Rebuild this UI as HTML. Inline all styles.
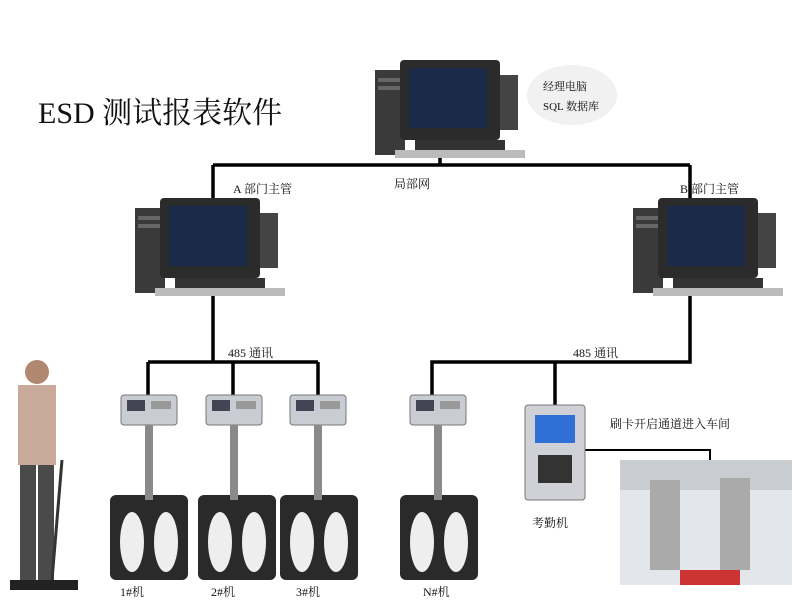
<!DOCTYPE html>
<html><head><meta charset="utf-8"><style>
body{margin:0;background:#fff;}
#c{position:relative;width:803px;height:605px;overflow:hidden;background:#fff;font-family:"Liberation Serif","Noto Serif CJK SC",serif;}
.t{position:absolute;font-size:12px;color:#111;white-space:nowrap;}
</style></head><body><div id="c">
<svg width="803" height="605" style="position:absolute;left:0;top:0">
<defs>
<linearGradient id="g1" x1="0" x2="1"><stop offset="0" stop-color="#888"/><stop offset="1" stop-color="#333"/></linearGradient>
<g id="pc">
<rect x="0" y="10" width="30" height="85" fill="#3a3a3a"/>
<rect x="3" y="18" width="24" height="4" fill="#666"/><rect x="3" y="26" width="24" height="4" fill="#666"/>
<rect x="25" y="0" width="100" height="80" rx="4" fill="#2b2b2b"/>
<rect x="34" y="8" width="78" height="60" fill="#1c2a4a"/>
<rect x="125" y="15" width="18" height="55" fill="#444"/>
<rect x="40" y="80" width="90" height="12" fill="#333"/>
<rect x="20" y="90" width="130" height="8" fill="#bbb"/>
</g>
<g id="dev">
<rect x="0" y="0" width="56" height="30" rx="3" fill="#c9ccd2" stroke="#777"/>
<rect x="6" y="5" width="18" height="11" fill="#445"/>
<rect x="30" y="6" width="20" height="8" fill="#999"/>
<rect x="24" y="30" width="8" height="75" fill="#8a8a8a"/>
</g>
<g id="mat">
<rect x="0" y="0" width="78" height="85" rx="6" fill="#2a2a2a"/>
<ellipse cx="22" cy="47" rx="12" ry="30" fill="#eee"/>
<ellipse cx="56" cy="47" rx="12" ry="30" fill="#eee"/>
</g>
</defs>
<g stroke="#000" stroke-width="3.5" fill="none">
<path d="M440 140V165M213 165H690M213 165V200M690 165V200"/>
<path d="M213 290V362M148 362H318M148 362V395M233 362V395M318 362V395"/>
<path d="M690 290V362H432V395M555 362V405"/>
<path d="M585 450H710V462" stroke-width="2"/>
</g>
<use href="#pc" x="375" y="60"/>
<use href="#pc" x="135" y="198"/>
<use href="#pc" x="633" y="198"/>
<ellipse cx="572" cy="95" rx="45" ry="30" fill="#f1f1f1"/>
<use href="#mat" x="110" y="495"/><use href="#mat" x="198" y="495"/><use href="#mat" x="280" y="495"/><use href="#mat" x="400" y="495"/>
<use href="#dev" x="121" y="395"/><use href="#dev" x="206" y="395"/><use href="#dev" x="290" y="395"/><use href="#dev" x="410" y="395"/>
<rect x="525" y="405" width="60" height="95" rx="3" fill="#cfd1d6" stroke="#777"/>
<rect x="535" y="415" width="40" height="28" fill="#2f6fd6"/>
<rect x="538" y="455" width="34" height="28" fill="#333"/>
<rect x="620" y="460" width="172" height="125" fill="#e3e6ea"/>
<rect x="620" y="460" width="172" height="30" fill="#c9cdd2"/>
<rect x="650" y="480" width="30" height="90" fill="#aaa"/><rect x="720" y="478" width="30" height="92" fill="#aaa"/>
<rect x="680" y="570" width="60" height="15" fill="#c33"/>
<rect x="18" y="385" width="38" height="80" fill="#c8a99a"/>
<circle cx="37" cy="372" r="12" fill="#b08870"/>
<rect x="20" y="465" width="16" height="115" fill="#4a4a4a"/><rect x="38" y="465" width="16" height="115" fill="#4a4a4a"/>
<rect x="10" y="580" width="68" height="10" fill="#222"/>
<line x1="62" y1="460" x2="52" y2="580" stroke="#333" stroke-width="3"/>
</svg>
<div class="t" style="left:38px;top:88px;font-size:30px;">ESD 测试报表软件</div>
<div class="t" style="left:543px;top:78px;font-size:11px;">经理电脑</div>
<div class="t" style="left:543px;top:98px;font-size:11px;">SQL 数据库</div>
<div class="t" style="left:394px;top:175px;">局部网</div>
<div class="t" style="left:233px;top:180px;">A 部门主管</div>
<div class="t" style="left:680px;top:180px;">B 部门主管</div>
<div class="t" style="left:228px;top:344px;">485 通讯</div>
<div class="t" style="left:573px;top:344px;">485 通讯</div>
<div class="t" style="left:610px;top:415px;">刷卡开启通道进入车间</div>
<div class="t" style="left:532px;top:514px;">考勤机</div>
<div class="t" style="left:120px;top:583px;">1#机</div>
<div class="t" style="left:211px;top:583px;">2#机</div>
<div class="t" style="left:296px;top:583px;">3#机</div>
<div class="t" style="left:423px;top:583px;">N#机</div>
</div></body></html>
